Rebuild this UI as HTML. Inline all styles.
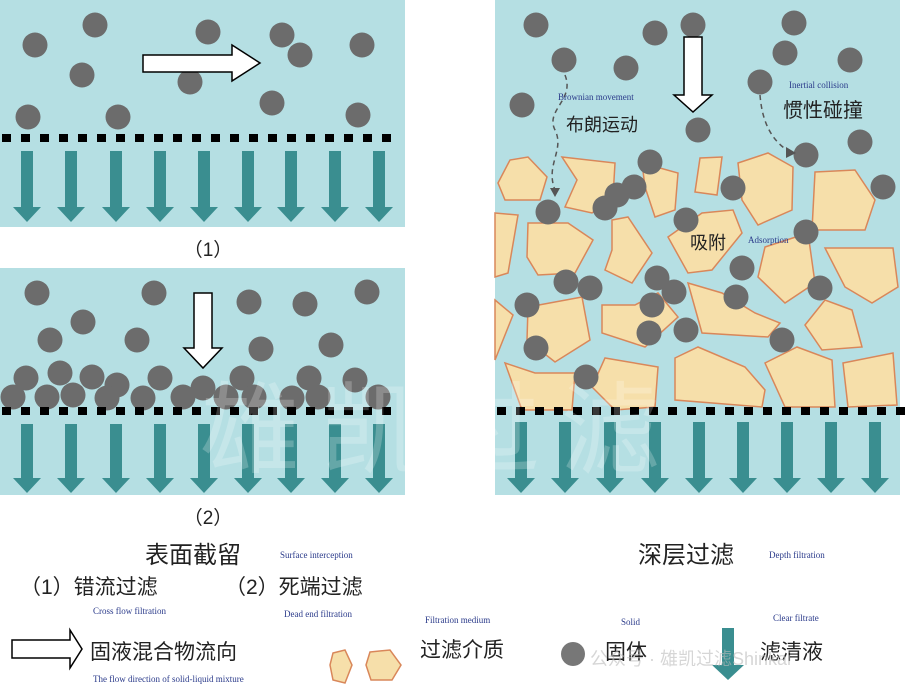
<!DOCTYPE html>
<html><head><meta charset="utf-8"><style>
html,body{margin:0;padding:0;background:#fff;}
svg{display:block;}
.cn{font-family:"Liberation Sans","Noto Sans CJK SC",sans-serif;fill:#222;}
.en{font-family:"Liberation Serif",serif;fill:#2a3a8a;font-size:9px;}
</style></head><body>
<svg id="s" width="905" height="691" xmlns="http://www.w3.org/2000/svg">
<rect x="0" y="0" width="405" height="227" fill="#B5DFE3"/>
<rect x="0" y="268" width="405" height="227" fill="#B5DFE3"/>
<rect x="495" y="0" width="405" height="495" fill="#B5DFE3"/>
<g id="poly" fill="#F6DFAA" stroke="#D9875A" stroke-width="1.5"></g>
<g id="circ" fill="#6c6c6c"></g>
<g id="dash" fill="#000"></g>
<g id="arr" fill="#3A8E90"></g>
<polygon points="143,55 232,55 232,45 260,63 232,81 232,72 143,72" fill="#fff" stroke="#000" stroke-width="1.5"/>
<polygon points="194,293 212,293 212,348 222,348 203,368 184,348 194,348" fill="#fff" stroke="#000" stroke-width="1.5"/>
<polygon points="684,37 702,37 702,95 712,95 693,112 674,95 684,95" fill="#fff" stroke="#000" stroke-width="1.5"/>
<path d="M565,75 C575,100 545,110 555,130 C565,150 545,165 555,190" fill="none" stroke="#555" stroke-width="1.5" stroke-dasharray="5,4"/>
<polygon points="550,188 560,188 555,197" fill="#555"/>
<path d="M760,95 C762,120 770,140 790,152" fill="none" stroke="#555" stroke-width="1.5" stroke-dasharray="5,4"/>
<polygon points="786,147 796,153 786,158" fill="#555"/>
<text x="208" y="256" class="cn" font-size="19" text-anchor="middle">（1）</text>
<text x="208" y="524" class="cn" font-size="19" text-anchor="middle">（2）</text>
<text x="558" y="100" class="en">Brownian movement</text>
<text x="566" y="131" class="cn" font-size="18">布朗运动</text>
<text x="789" y="88" class="en">Inertial collision</text>
<text x="783" y="117" class="cn" font-size="20">惯性碰撞</text>
<text x="690" y="249" class="cn" font-size="18">吸附</text>
<text x="748" y="243" class="en">Adsorption</text>
<text x="145" y="563" class="cn" font-size="24">表面截留</text>
<text x="280" y="558" class="en">Surface interception</text>
<text x="638" y="563" class="cn" font-size="24">深层过滤</text>
<text x="769" y="558" class="en">Depth filtration</text>
<text x="20" y="594" class="cn" font-size="21">（1）错流过滤</text>
<text x="225" y="594" class="cn" font-size="21">（2）死端过滤</text>
<text x="93" y="614" class="en">Cross flow filtration</text>
<text x="284" y="617" class="en">Dead end filtration</text>
<text x="425" y="623" class="en">Filtration medium</text>
<text x="621" y="625" class="en">Solid</text>
<text x="773" y="621" class="en">Clear filtrate</text>
<polygon points="12,640 70,640 70,630 82,649 70,668 70,658 12,658" fill="#fff" stroke="#000" stroke-width="1.5"/>
<text x="90" y="659" class="cn" font-size="21">固液混合物流向</text>
<text x="93" y="682" class="en">The flow direction of solid-liquid mixture</text>
<text x="420" y="657" class="cn" font-size="21">过滤介质</text>
<circle cx="573" cy="654" r="12" fill="#777"/>
<text x="605" y="659" class="cn" font-size="21">固体</text>
<polygon points="722,628 734,628 734,665 744,665 728,680 712,665 722,665" fill="#3A8E90"/>
<text x="760" y="659" class="cn" font-size="21">滤清液</text>
<polygon points="333,653 345,650 352,665 345,683 333,680 330,665" fill="#F6DFAA" stroke="#D9875A" stroke-width="1.5"/>
<polygon points="370,652 390,650 401,665 392,680 371,680 366,665" fill="#F6DFAA" stroke="#D9875A" stroke-width="1.5"/>
<text x="590" y="665" font-family="Liberation Sans,Noto Sans CJK SC,sans-serif" font-size="18" fill="#bbb" opacity="0.6">公众号 · 雄凯过滤Shinkai</text>
<text x="200" y="465" font-family="Noto Sans CJK SC,sans-serif" font-size="100" fill="#fff" opacity="0.22" letter-spacing="20">雄凯过滤</text>
</svg>
<script>
var NS="http://www.w3.org/2000/svg";
function el(g,t,a){var e=document.createElementNS(NS,t);for(var k in a)e.setAttribute(k,a[k]);document.getElementById(g).appendChild(e);}
var C=[[35,45],[95,25],[208,32],[282,35],[300,55],[362,45],[82,75],[190,82],[272,103],[28,117],[118,117],[358,115],
[37,293],[154,293],[249,302],[305,304],[367,292],[83,322],[50,340],[137,340],[261,349],[331,345],
[26,378],[60,373],[92,377],[117,385],[160,378],[242,378],[309,378],[355,380],
[13,397],[47,397],[73,395],[107,398],[143,398],[183,397],[203,388],[226,397],[254,397],[292,398],[318,397],[378,397],
[536,25],[564,60],[626,68],[655,33],[693,25],[794,23],[785,53],[850,60],[760,82],[522,105],[698,130],[860,142],[806,155],
[650,162],[634,187],[733,188],[548,212],[617,195],[605,208],[883,187],[686,220],[806,232],[742,268],[566,282],[590,288],
[657,278],[674,292],[527,305],[820,288],[736,297],[649,333],[782,340],[536,348],[586,377],[686,330],[652,305]];
C.forEach(function(c){el("circ","circle",{cx:c[0],cy:c[1],r:12.5});});
var P=["498,183 510,160 528,157 547,177 540,200 505,200","562,157 615,163 613,197 592,213 565,207 577,180","642,163 678,173 675,210 655,217 645,187",
"700,158 722,157 717,195 695,192","738,163 768,153 793,167 792,210 758,225 742,200","815,172 855,170 875,200 865,230 812,230",
"495,213 518,215 508,273 495,277","528,223 568,223 593,240 575,273 538,275 527,257","612,220 628,217 652,253 632,283 605,270 612,250",
"668,237 702,213 733,210 742,233 712,270 688,273","765,247 808,233 815,283 785,303 758,277","825,248 893,248 898,287 872,303 845,287",
"495,300 513,315 495,360","528,307 582,297 590,340 555,362 527,340","602,305 635,305 658,293 678,317 645,347 602,333",
"688,283 722,293 755,313 780,323 768,337 702,333","805,325 825,300 852,310 862,347 822,350",
"505,363 535,373 575,373 572,410 522,410","592,387 605,358 658,367 655,407 615,410","675,358 698,347 745,367 765,390 762,407 675,400",
"765,363 797,347 832,360 835,407 785,407","843,363 893,353 897,405 848,407"];
P.forEach(function(p){el("poly","polygon",{points:p});});
function dashes(x0,x1,y){for(var x=x0;x<x1;x+=19)el("dash","rect",{x:x,y:y,width:9,height:8});}
dashes(2,400,134);dashes(2,400,407);dashes(497,900,407);
function arrows(xs,y0,y1){xs.forEach(function(x){el("arr","polygon",{points:[x-6,y0,x+6,y0,x+6,y1-15,x+14,y1-15,x,y1,x-14,y1-15,x-6,y1-15].join(" ")});});}
var L=[27,71,116,160,204,248,291,335,379];
arrows(L,151,222);arrows(L,424,493);
arrows([521,565,610,655,699,743,787,831,875],422,493);
</script>
</body></html>
